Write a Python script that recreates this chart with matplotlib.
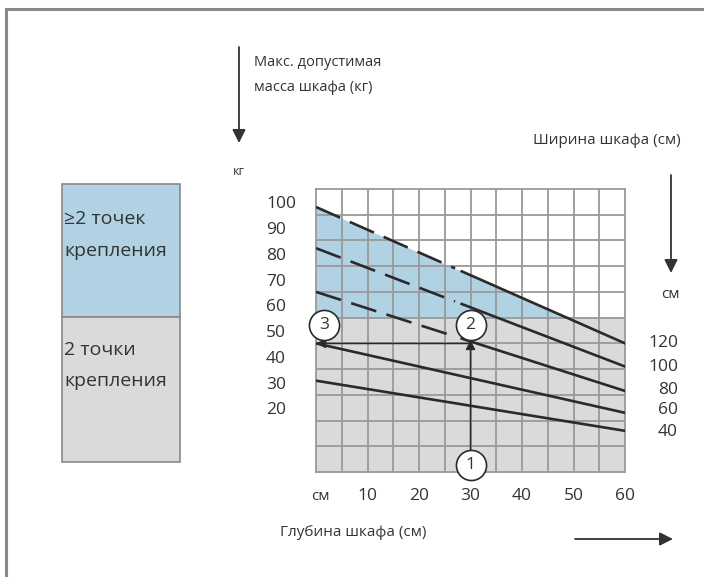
import numpy as np
import matplotlib.pyplot as plt
from matplotlib.patches import Rectangle, FancyArrowPatch
from matplotlib.lines import Line2D

plt.rcParams['font.family'] = ['Open Sans', 'DejaVu Sans']

# data
widths = [120, 100, 80, 60, 40]            # cabinet width (cm), one line each
mass_at_0 = [99, 83, 66, 46, 31.5]         # kg at depth 0 cm
mass_at_60 = [46, 37, 27.5, 19, 12]        # kg at depth 60 cm
dashed_upto = [27, 27, 27, None, None]     # dashed part of the line (cm)
limit_2pts = 56.3                          # kg limit for 2 fixing points
depth_ticks = [10, 20, 30, 40, 50, 60]
mass_ticks = [100, 90, 80, 70, 60, 50, 40, 30, 20]
width_label_y = [46, 37, 28, 20, 11.5]     # where the width labels sit (kg)
example_depth = 30
example_width = 80

W, H = 704, 577
fig = plt.figure(figsize=(W / 100, H / 100), dpi=100)
txt = '#333333'


def fx(px):
    return px / W


def fy(py):
    return 1 - py / H


# outer frame (only top/left visible in the picture)
fig.add_artist(Line2D([fx(6), fx(6)], [fy(9), fy(H + 5)], color='#888888', lw=2.2))
fig.add_artist(Line2D([fx(6), fx(W + 5)], [fy(9), fy(9)], color='#888888', lw=2.2))

# main grid axes
ax = fig.add_axes([fx(316), fy(472), fx(625) - fx(316), fy(189) - fy(472)])
ax.set_xlim(0, 60)
ax.set_ylim(-4, 106)
ax.set_xticks([])
ax.set_yticks([])
for s in ax.spines.values():
    s.set_color('#999999')
    s.set_linewidth(1.3)

x = np.array([0, 60])
top = np.array([mass_at_0[0], mass_at_60[0]])
ax.fill_between([0, 60], -4, limit_2pts, color='#dadadc', lw=0, zorder=0)
xx = np.linspace(0, 60, 200)
yy = np.interp(xx, x, top)
ax.fill_between(xx, limit_2pts, yy, where=yy > limit_2pts, color='#b0d2e2', lw=0, zorder=0)

for gx in np.arange(5, 60, 5):
    ax.axvline(gx, color='#999999', lw=1.3, zorder=1)
for gy in np.arange(6, 106, 10):
    ax.axhline(gy, color='#999999', lw=1.3, zorder=1)

for m0, m60, dash in zip(mass_at_0, mass_at_60, dashed_upto):
    if dash is None:
        ax.plot(x, [m0, m60], color='#2a2a2a', lw=1.9, zorder=3)
    else:
        yd = np.interp(dash, x, [m0, m60])
        ys = np.interp(dash + 1.3, x, [m0, m60])
        ax.plot([0, dash], [m0, yd], color='#2a2a2a', lw=1.9, ls=(0, (10, 4)),
                zorder=3, solid_capstyle='butt', dash_capstyle='butt')
        ax.plot([dash + 1.3, 60], [ys, m60], color='#2a2a2a', lw=1.9, zorder=3)

# worked example: depth 30 cm, width 80 cm
i = widths.index(example_width)
ex_mass = np.interp(example_depth, x, [mass_at_0[i], mass_at_60[i]])
ax.annotate('', xy=(example_depth, ex_mass + 0.6), xytext=(example_depth, 4),
            arrowprops=dict(arrowstyle='-|>', color='#2a2a2a', lw=1.1,
                            mutation_scale=14, shrinkA=0, shrinkB=0), zorder=4)
ax.annotate('', xy=(0, ex_mass - 0.8), xytext=(example_depth, ex_mass - 0.8),
            arrowprops=dict(arrowstyle='-|>', color='#2a2a2a', lw=1.1,
                            mutation_scale=14, shrinkA=0, shrinkB=0), zorder=4)

circles = [('1', example_depth, -1.3), ('2', example_depth, 53), ('3', 1.6, 53)]
for lab, cx, cy in circles:
    ax.scatter([cx], [cy], s=470, facecolor='white', edgecolor='#2a2a2a',
               lw=1.2, zorder=5, clip_on=False)
    ax.text(cx, cy, lab, ha='center', va='center', fontsize=12.5, color=txt, zorder=6)

# mass labels (left)
lab_tr = ax.get_yaxis_transform()
for m in mass_ticks:
    ax.text(-50 / 309, m, str(m), transform=lab_tr, ha='left', va='center',
            fontsize=12.5, color=txt)
fig.text(fx(233), fy(172), 'кг', ha='left', va='center', fontsize=9, color=txt)

# depth labels (bottom)
fig.text(fx(320), fy(497), 'см', ha='center', va='center', fontsize=11, color=txt)
for d in depth_ticks:
    ax.text(d, -13.5, str(d), ha='center', va='center', fontsize=12.5, color=txt)

# width labels (right)
for w, m in zip(widths, width_label_y):
    ax.text(1 + 53 / 309, m, str(w), transform=lab_tr, ha='right', va='center',
            fontsize=12.5, color=txt)
fig.text(fx(670), fy(294), 'см', ha='center', va='center', fontsize=11, color=txt)

# axis titles and direction arrows
fig.text(fx(254), fy(63), 'Макс. допустимая', ha='left', va='center', fontsize=10.5, color=txt)
fig.text(fx(254), fy(87), 'масса шкафа (кг)', ha='left', va='center', fontsize=10.5, color=txt)
fig.text(fx(681), fy(141), 'Ширина шкафа (см)', ha='right', va='center', fontsize=11, color=txt)
fig.text(fx(280), fy(532), 'Глубина шкафа (см)', ha='left', va='center', fontsize=11, color=txt)

arr = dict(arrowstyle='-|>', color='#333333', lw=1.3, mutation_scale=20,
           shrinkA=0, shrinkB=0)
fig.add_artist(FancyArrowPatch((fx(239), fy(47)), (fx(239), fy(143)),
                               transform=fig.transFigure, **arr))
fig.add_artist(FancyArrowPatch((fx(671), fy(175)), (fx(671), fy(273)),
                               transform=fig.transFigure, **arr))
fig.add_artist(FancyArrowPatch((fx(575), fy(539)), (fx(673), fy(539)),
                               transform=fig.transFigure, **arr))

# legend boxes on the left
fig.add_artist(Rectangle((fx(62), fy(317)), fx(180) - fx(62), fy(184) - fy(317),
                         transform=fig.transFigure, facecolor='#b0d2e2',
                         edgecolor='#888888', lw=1.2))
fig.add_artist(Rectangle((fx(62), fy(462)), fx(180) - fx(62), fy(317) - fy(462),
                         transform=fig.transFigure, facecolor='#dadadc',
                         edgecolor='#888888', lw=1.2))
fig.text(fx(64), fy(219), '≥2 точек', ha='left', va='center', fontsize=14, color=txt)
fig.text(fx(64), fy(251), 'крепления', ha='left', va='center', fontsize=14, color=txt)
fig.text(fx(64), fy(350), '2 точки', ha='left', va='center', fontsize=14, color=txt)
fig.text(fx(64), fy(381), 'крепления', ha='left', va='center', fontsize=14, color=txt)

fig.savefig('out.png', dpi=100)
